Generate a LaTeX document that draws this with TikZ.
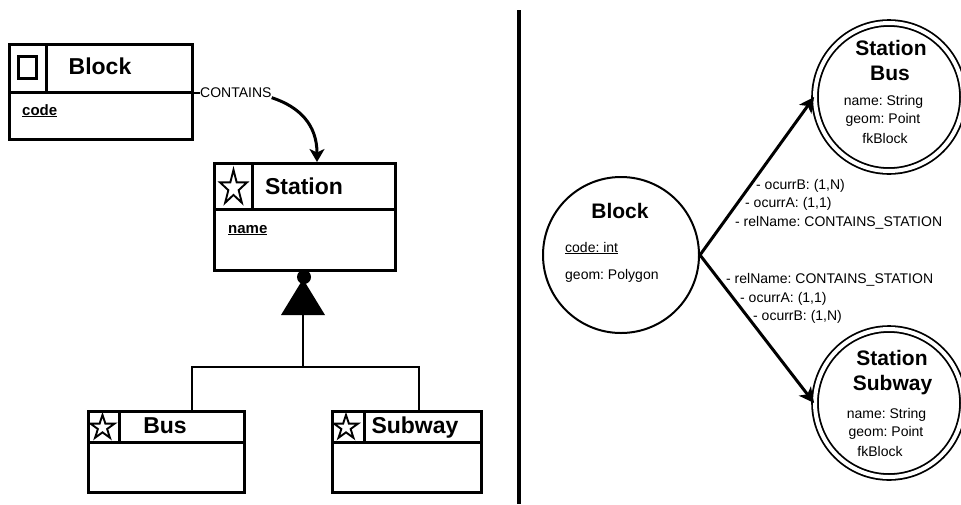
\documentclass[tikz,border=0pt]{standalone}
\usepackage{fontspec}
\setmainfont{Liberation Sans}
\usetikzlibrary{arrows.meta,calc}
\frenchspacing

\tikzset{
  box/.style={draw, line width=3pt, inner sep=0pt, anchor=north west},
  rule/.style={line width=3pt},
  iconline/.style={line width=1.9pt, line join=miter},
  conn/.style={line width=2pt},
  bigttl/.style={font=\fontsize{23}{26}\selectfont\bfseries, inner sep=0pt, anchor=base},
  ttl/.style={font=\fontsize{21}{24}\selectfont\bfseries, inner sep=0pt, anchor=base},
  battr/.style={font=\fontsize{15}{17}\selectfont\bfseries, inner sep=0pt, anchor=base west},
  txt/.style={font=\fontsize{14}{16}\selectfont, inner sep=0pt, anchor=base},
  ltxt/.style={txt, anchor=base west},
  entity/.style={circle, draw, line width=2pt, inner sep=0pt, minimum size=156pt},
  subentity/.style={circle, draw, line width=1.8pt, double=white, double distance=4pt,
    inner sep=0pt, minimum size=148pt},
  arr/.style={line width=3pt, -{Stealth[length=15pt, width=15pt, inset=4pt]}},
}

% five-pointed outline star, centre (#1,#2), outer radius #3, horizontal squeeze #4
\newcommand{\staricon}[4]{%
  \draw[iconline, shift={(#1,#2)}, xscale=#4]
    (-90:#3) -- (-54:0.382*#3) -- (-18:#3) -- (18:0.382*#3) -- (54:#3)
    -- (90:0.382*#3) -- (126:#3) -- (162:0.382*#3) -- (198:#3) -- (234:0.382*#3) -- cycle;}

\begin{document}
\begin{tikzpicture}[x=1pt, y=-1pt]
\useasboundingbox (0,0) rectangle (961,504);

% ---------------- class diagram ----------------
% Block
\node[box, minimum width=183pt, minimum height=95pt] (blk) at (8,43) {};
\draw[rule] (blk.west |- 0,92) -- (blk.east |- 0,92);
\draw[rule] (46,43) -- (46,92);
\draw[line width=3pt] (18,56) rectangle (36,78);
\node[bigttl] (blkT) at (100,74) {Block};
\node[battr] (blkA) at (22,115) {\underline{code}};

% Station
\node[box, minimum width=181pt, minimum height=107pt] (sta) at (213,162) {};
\draw[rule] (sta.west |- 0,209) -- (sta.east |- 0,209);
\draw[rule] (252,162) -- (252,209);
\staricon{233.5}{188}{18.2}{0.78}
\node[bigttl] (staT) at (304,194) {Station};
\node[battr] (staA) at (228,233) {\underline{name}};

% Bus
\node[box, minimum width=156pt, minimum height=81pt] (bus) at (87,410) {};
\draw[rule] (bus.west |- 0,442) -- (bus.east |- 0,442);
\draw[rule] (119,410) -- (119,442);
\staricon{102.5}{427.5}{12.7}{1}
\node[bigttl] (busT) at (165,433) {Bus};

% Subway
\node[box, minimum width=149pt, minimum height=81pt] (sub) at (331,410) {};
\draw[rule] (sub.west |- 0,442) -- (sub.east |- 0,442);
\draw[rule] (364,410) -- (364,442);
\staricon{346}{427.5}{12.7}{1}
\node[bigttl] (subT) at (415,433) {Subway};

% association Block -> Station
\node[txt, anchor=west] (cont) at (200,92.5) {CONTAINS};
\draw[conn] (blk.east |- cont.west) -- (cont.west);
\draw[line width=3pt, -{Stealth[length=13pt, width=15pt, inset=3.5pt]}]
  (cont.south east) .. controls (300,107) and (317,125) .. (sta.north -| 317,0);

% generalisation Station <- Bus, Subway
\fill (303,279) -- (281,315) -- (325,315) -- cycle;
\node[circle, fill, inner sep=0pt, minimum size=14pt] (gdot) at (304,277) {};
\coordinate (gbase) at (303,315);
\coordinate (split) at (303,367);
\draw[conn] (gbase) -- (split);
\draw[conn] (split) -| ([xshift=25pt]bus.north);
\draw[conn] (split) -| ([xshift=11.5pt]sub.north);

% separator
\coordinate (sepA) at (519,10);
\coordinate (sepB) at (519,504);
\draw[line width=4pt] (sepA) -- (sepB);

% ---------------- graph model ----------------
\node[entity] (bc) at (621,255) {};
\node[ttl] (bcT) at (620,218) {Block};
\node[ltxt] (bcA) at (565,252) {\underline{code: int}};
\node[ltxt] (bcB) at (565,279) {geom: Polygon};

\node[subentity] (sb) at (889,97) {};
\node[ttl] (sbT1) at (891,55) {Station};
\node[ttl] (sbT2) at (890,80) {Bus};
\node[txt] (sbA) at (883.5,105) {name: String};
\node[txt] (sbB) at (883,123) {geom: Point};
\node[txt] (sbC) at (885,143) {fkBlock};

\node[subentity] (ss) at (889,403) {};
\node[ttl] (ssT1) at (892,365) {Station};
\node[ttl] (ssT2) at (892.5,390) {Subway};
\node[txt] (ssA) at (886.5,418) {name: String};
\node[txt] (ssB) at (886,436) {geom: Point};
\node[txt] (ssC) at (880,456) {fkBlock};

\draw[arr] (bc.east) -- (sb.west);
\draw[arr] (bc.east) -- (ss.west);

\node[ltxt] (u1) at (756,189) {- ocurrB: (1,N)};
\node[ltxt] (u2) at (745,207) {- ocurrA: (1,1)};
\node[ltxt] (u3) at (735,226) {- relName: CONTAINS\_STATION};
\node[ltxt] (l1) at (726,283) {- relName: CONTAINS\_STATION};
\node[ltxt] (l2) at (740,302) {- ocurrA: (1,1)};
\node[ltxt] (l3) at (753,320) {- ocurrB: (1,N)};
\end{tikzpicture}
\end{document}
